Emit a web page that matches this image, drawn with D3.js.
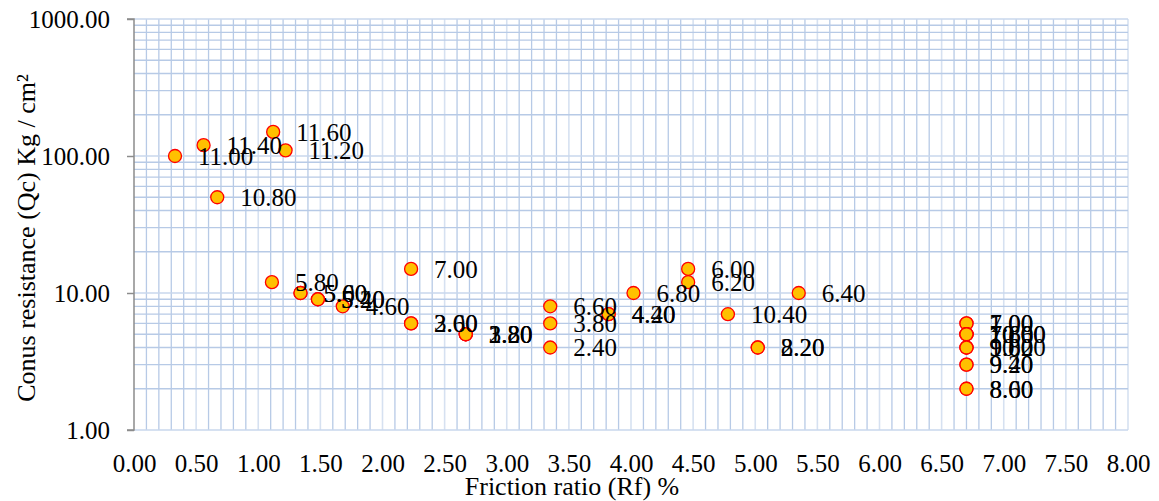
<!DOCTYPE html>
<html>
<head>
<meta charset="utf-8">
<script src="https://cdn.jsdelivr.net/npm/d3@7"></script>
<style>
  html, body { margin: 0; padding: 0; background: #ffffff; }
  svg { display: block; font-family: "Liberation Serif", "Times New Roman", serif; }
</style>
</head>
<body>
<svg id="chart" width="1159" height="501"></svg>
<script>
// Friction ratio (Rf, %) of each reading
const frictionRatio = [
  0.33, 0.56, 0.67, 1.12, 1.22,
  1.11, 1.34, 1.34, 1.48, 1.48, 1.68,
  2.23, 2.23, 2.23, 2.67, 2.67, 2.67,
  3.35, 3.35, 3.35, 3.82, 3.82, 4.02,
  4.46, 4.46, 4.78, 5.02, 5.02, 5.35,
  6.70, 6.70, 6.70, 6.70, 6.70, 6.70,
  6.70, 6.70, 6.70, 6.70, 6.70, 6.70, 6.70
];
// Cone resistance (Qc, kg/cm²) of each reading
const coneResistance = [
  100, 120, 50, 150, 110,
  12, 10, 10, 9, 9, 8,
  15, 6, 6, 5, 5, 5,
  8, 6, 4, 7, 7, 10,
  15, 12, 7, 4, 4, 10,
  6, 6, 5, 5, 5, 5,
  4, 4, 4, 3, 3, 2, 2
];
// Depth (m) written next to each reading
const depthLabels = [
  "11.00", "11.40", "10.80", "11.60", "11.20",
  "5.80", "5.60", "5.00", "5.40", "5.20", "4.60",
  "7.00", "3.60", "2.00", "1.80", "2.80", "3.20",
  "6.60", "3.80", "2.40", "4.20", "4.40", "6.80",
  "6.00", "6.20", "10.40", "8.20", "2.20", "6.40",
  "7.00", "1.00", "7.60", "7.80", "10.00", "10.60",
  "9.00", "9.80", "10.20", "9.20", "9.40", "8.00", "8.60"
];

// Axis ticks
const xTickValues = [0, 0.5, 1, 1.5, 2, 2.5, 3, 3.5, 4, 4.5, 5, 5.5, 6, 6.5, 7, 7.5, 8];
const yTickValues = [1, 10, 100, 1000];
const xTitle = "Friction ratio (Rf) %";
const yTitle = "Conus resistance (Qc) Kg / cm²";

const svg = d3.select("#chart");
const plotLeft = 134, plotRight = 1128, plotTop = 19, plotBottom = 430;

const x = d3.scaleLinear().domain([0, 8]).range([plotLeft, plotRight]);
const y = d3.scaleLog().domain([1, 1000]).range([plotBottom, plotTop]);

const grid = svg.append("g");

// minor vertical grid every 0.1
const xMinor = d3.range(1, 80).map(i => i / 10).filter(v => Math.round(v * 10) % 5 !== 0);
grid.selectAll("line.xminor").data(xMinor).join("line")
  .attr("x1", d => x(d)).attr("x2", d => x(d))
  .attr("y1", plotTop).attr("y2", plotBottom)
  .attr("stroke", "#b7cae6").attr("stroke-width", 1.3);

// major vertical grid every 0.5
grid.selectAll("line.xmajor").data(xTickValues.slice(1)).join("line")
  .attr("x1", d => x(d)).attr("x2", d => x(d))
  .attr("y1", plotTop).attr("y2", plotBottom)
  .attr("stroke", "#d6e1f1").attr("stroke-width", 1.6);

// minor horizontal grid 2..9 per decade
const yMinor = [];
[1, 10, 100].forEach(dec => { for (let k = 2; k <= 9; k++) yMinor.push(k * dec); });
grid.selectAll("line.yminor").data(yMinor).join("line")
  .attr("x1", plotLeft).attr("x2", plotRight)
  .attr("y1", d => y(d)).attr("y2", d => y(d))
  .attr("stroke", "#b7cae6").attr("stroke-width", 1.3);

// major horizontal grid at each decade
grid.selectAll("line.ymajor").data(yTickValues).join("line")
  .attr("x1", plotLeft).attr("x2", plotRight)
  .attr("y1", d => y(d)).attr("y2", d => y(d))
  .attr("stroke", "#c9d7ec").attr("stroke-width", 1.6);

// y axis with outside ticks
const yAxis = d3.axisLeft(y).tickValues(yTickValues).tickSize(7).tickPadding(17)
  .tickFormat(d3.format(".2f"));
const gy = svg.append("g").attr("transform", `translate(${plotLeft},0)`).call(yAxis);
gy.select(".domain").attr("stroke", "#8c8c8c").attr("stroke-width", 1.5)
  .attr("d", `M-7,${plotTop}H0V${plotBottom}H-7`);
gy.selectAll(".tick line").attr("stroke", "#8c8c8c").attr("stroke-width", 1.5);
gy.selectAll(".tick text").attr("font-size", 25).attr("fill", "#000")
  .attr("font-family", "Liberation Serif, serif");

// x axis labels only
const xAxis = d3.axisBottom(x).tickValues(xTickValues).tickSize(0).tickPadding(24)
  .tickFormat(d3.format(".2f"));
const gx = svg.append("g").attr("transform", `translate(0,${plotBottom})`).call(xAxis);
gx.select(".domain").remove();
gx.selectAll(".tick text").attr("font-size", 25).attr("fill", "#000")
  .attr("font-family", "Liberation Serif, serif");

// axis titles
svg.append("text").attr("x", 572).attr("y", 495).attr("text-anchor", "middle")
  .attr("font-size", 26).attr("fill", "#000").text(xTitle);
svg.append("text").attr("transform", "translate(35,238) rotate(-90)")
  .attr("text-anchor", "middle").attr("font-size", 26).attr("fill", "#000").text(yTitle);

// points
const pts = frictionRatio.map((rf, i) => ({ rf, qc: coneResistance[i], label: depthLabels[i] }));
svg.append("g").selectAll("circle").data(pts).join("circle")
  .attr("cx", d => x(d.rf)).attr("cy", d => y(d.qc)).attr("r", 6.5)
  .attr("fill", "#ffc000").attr("stroke", "#ff0000").attr("stroke-width", 1.3);

// depth labels to the right of each point
svg.append("g").selectAll("text").data(pts).join("text")
  .attr("x", d => x(d.rf) + 23).attr("y", d => y(d.qc)).attr("dy", "0.35em")
  .attr("font-size", 25).attr("fill", "#000").text(d => d.label);
</script>
</body>
</html>
